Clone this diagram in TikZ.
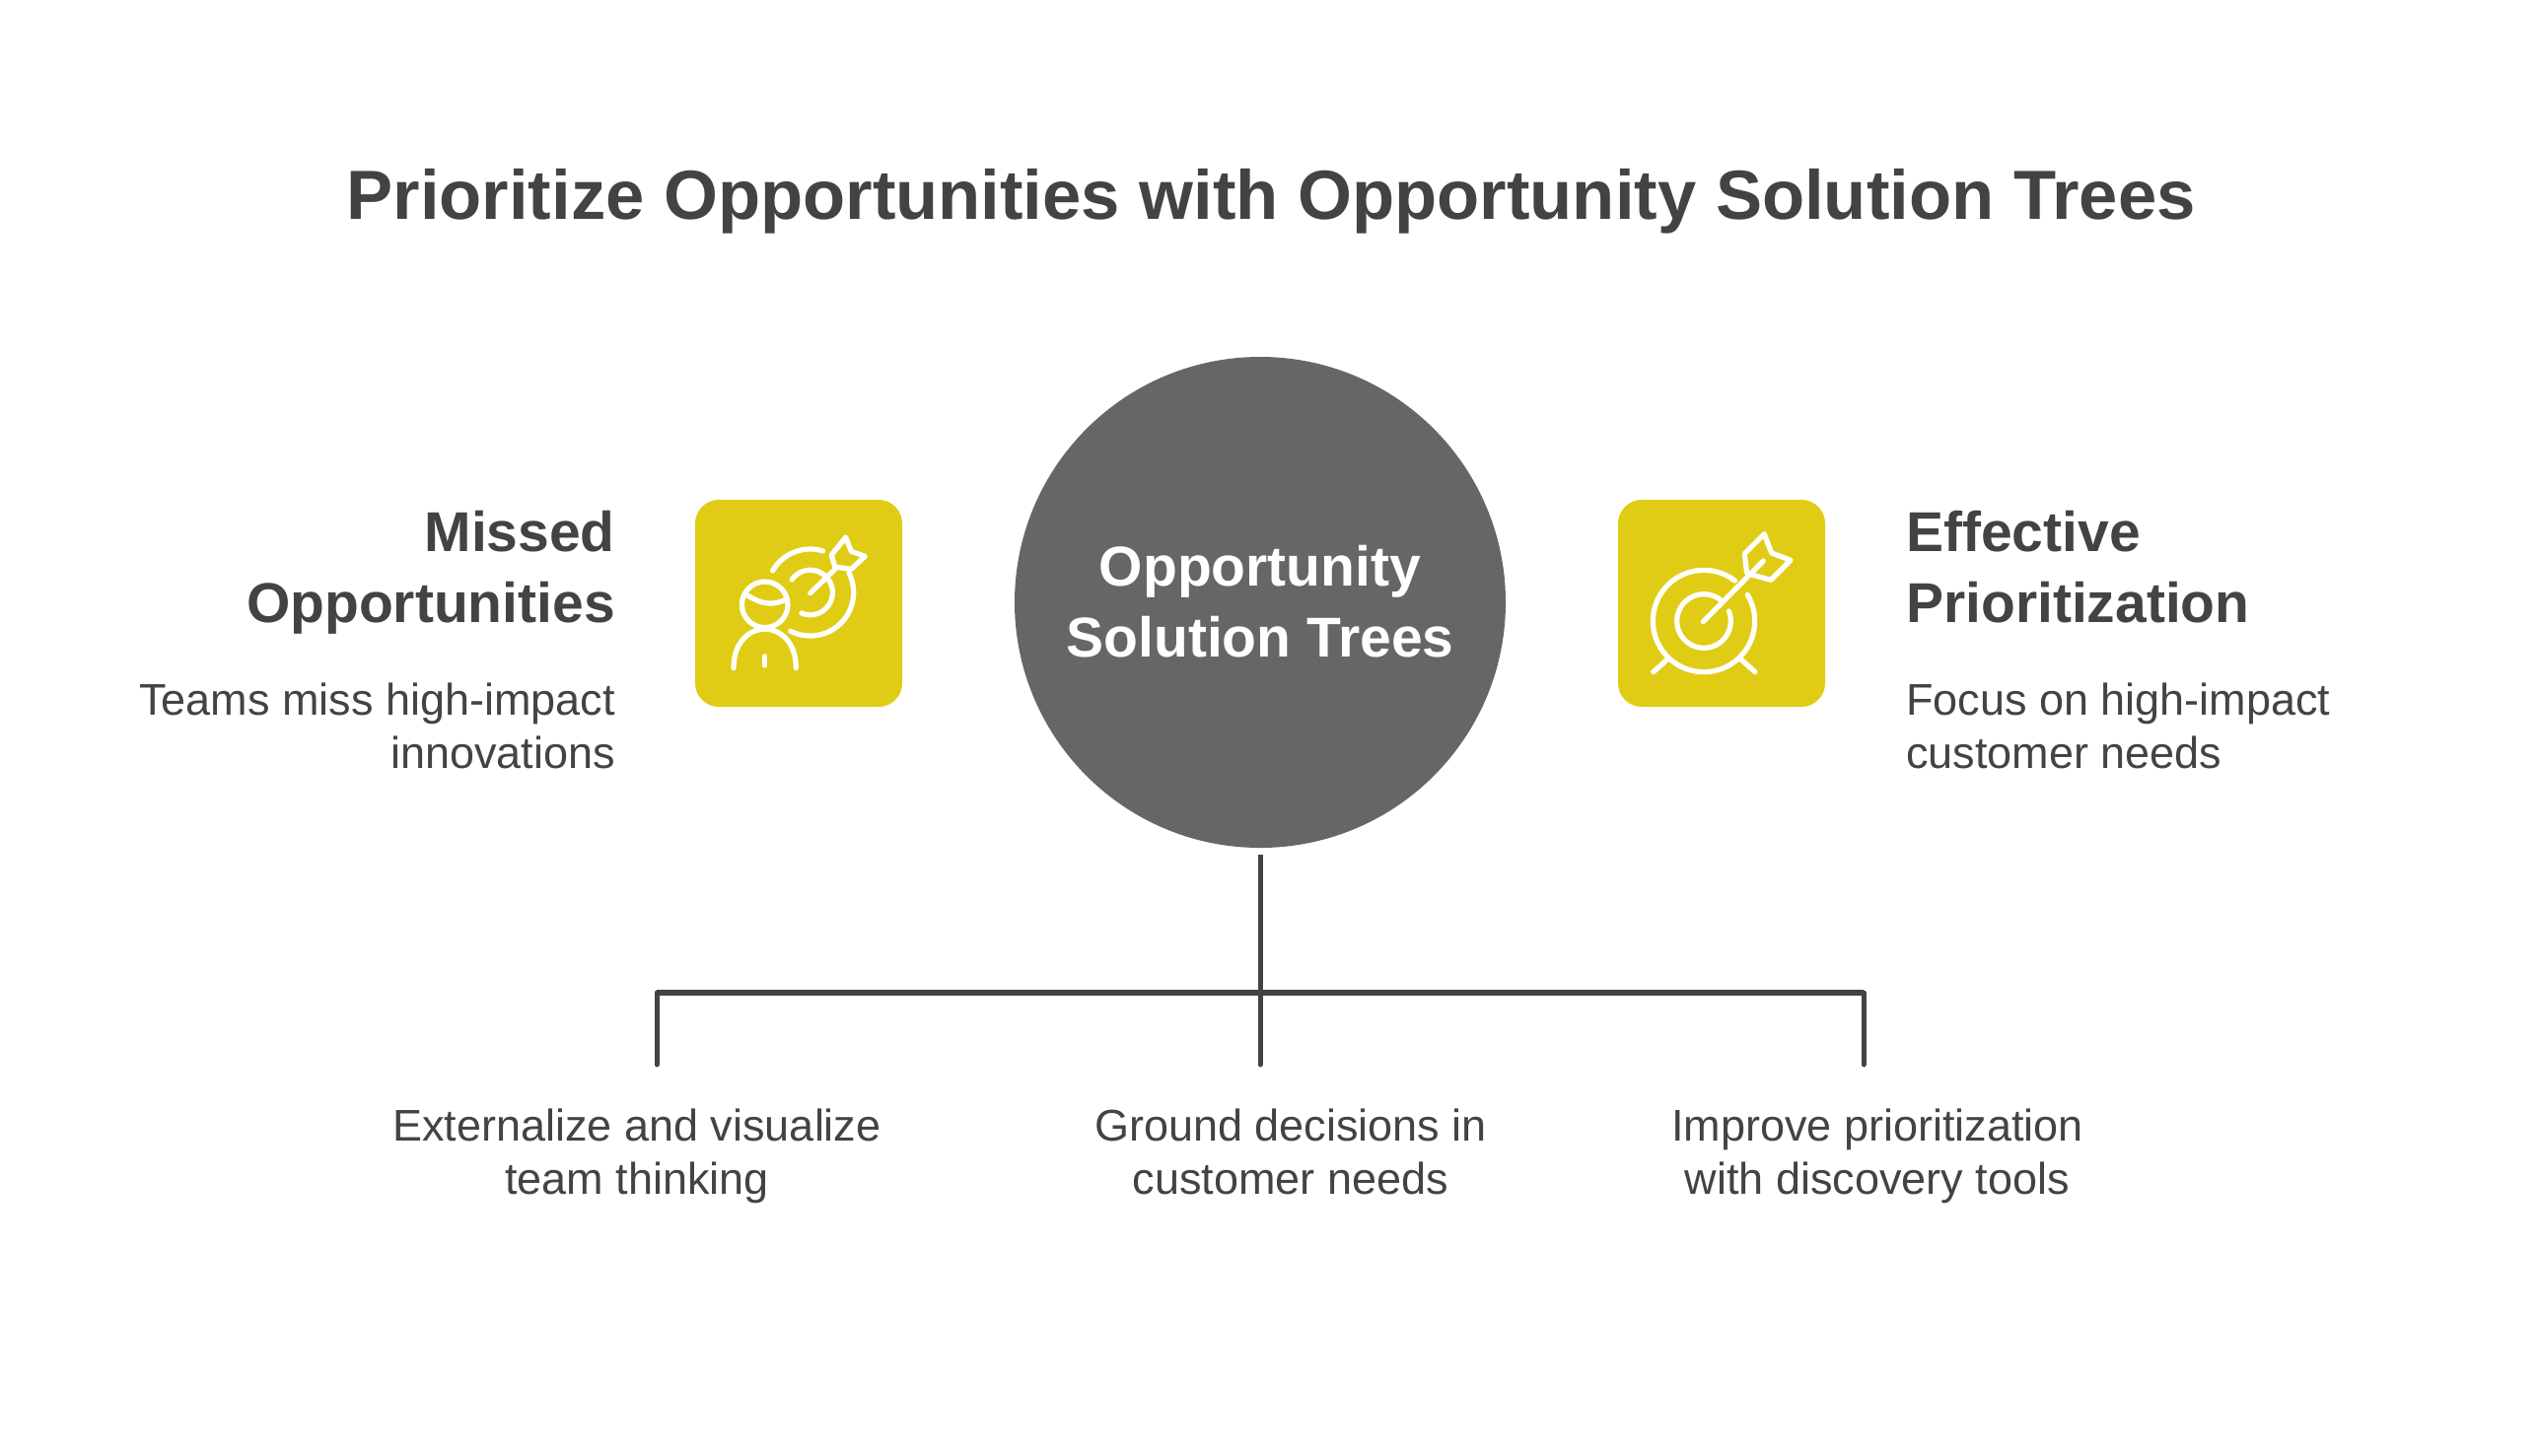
\documentclass[tikz,border=0pt]{standalone}
\usepackage{fontspec}
\usepackage{tikz}
\setmainfont{Liberation Sans}
\definecolor{encre}{HTML}{434343}
\definecolor{gris}{HTML}{666666}
\definecolor{jaune}{HTML}{E0CC14}
\tikzset{fig/.style={
    line width=5pt,
    draw=encre}}
\tikzset{tile/.style={
    rectangle,
    fill=jaune,
    rounded corners=24pt,
    minimum size=210pt,
    inner sep=0pt}}
\tikzset{iconline/.style={
    white,
    line width=5.2pt,
    line cap=round,
    line join=round}}
\tikzset{heading/.style={
    inner sep=0pt,
    text=encre,
    font=\fontsize{57}{72}\selectfont\bfseries}}
\tikzset{blurb/.style={
    inner sep=0pt,
    text=encre,
    font=\fontsize{45}{54}\selectfont}}
% arc of a ring: centre x, centre y, radius, from angle, to angle
\newcommand{\ringarc}[5]{\draw[iconline] plot[domain=#4:#5,samples=50] ({#1+#3*cos(\x)},{#2+#3*sin(\x)});}

\begin{document}
\begin{tikzpicture}[x=1pt,y=-1pt]

\useasboundingbox (0,0) rectangle (2574,1476);

\coordinate (H) at (1278,611);
\coordinate (J) at (1278,1007);
\coordinate (S1) at (666,1007);
\coordinate (S3) at (1890,1007);
\coordinate (E1) at (666,1080);
\coordinate (E2) at (1278,1080);
\coordinate (E3) at (1890,1080);

\node[inner sep=0pt,
  text=encre,
  anchor=base,
  font=\fontsize{70.6}{72}\selectfont\bfseries] (title) at (1289,222)
  {Prioritize Opportunities with Opportunity Solution Trees};

\node[circle,
  fill=gris,
  minimum size=498pt,
  inner sep=0pt] (hub) at (H) {};
\node[heading,
  text=white,
  align=center] (hubtext) at (1278,610) {Opportunity\\Solution Trees};

\node[tile] (t1) at (810,612) {};
\node[tile] (t2) at (1746,612) {};

\node[heading,
  anchor=north east,
  align=right] (h1) at (624,518) {Missed\\Opportunities};
\node[blurb,
  anchor=north east,
  align=right] (d1) at (624,693) {Teams miss high-impact\\innovations};

\node[heading,
  anchor=north west,
  align=left] (h2) at (1933,518) {Effective\\Prioritization};
\node[blurb,
  anchor=north west,
  align=left] (d2) at (1933,693) {Focus on high-impact\\customer needs};

\node[blurb,
  anchor=north,
  align=center] (b1) at (646,1125) {Externalize and visualize\\team thinking};
\node[blurb,
  anchor=north,
  align=center] (b2) at (1309,1125) {Ground decisions in\\customer needs};
\node[blurb,
  anchor=north,
  align=center] (b3) at (1904,1125) {Improve prioritization\\with discovery tools};

\draw[fig,shorten <=7pt] (hub.south) -- (J);
\draw[fig,line width=6pt] (S1) -- (S3);
\draw[fig,line cap=round] (S1) -- (E1);
\draw[fig,line cap=round] (J) -- (E2);
\draw[fig,line cap=round] (S3) -- (E3);

% person and target
\draw[iconline] (775.7,613.3) circle (23.3pt);
\draw[iconline] (758.3,604) .. controls (772,613) and (785,615) .. (798.3,607.3);
\draw[iconline] (744,677.7) .. controls (744,625) and (807.3,625) .. (807.3,677.7);
\draw[iconline] (775.7,665.7) -- (775.7,675);
\ringarc{821.7}{601}{44}{-150}{-73}
\ringarc{821.7}{601}{44}{-27}{117}
\ringarc{821.7}{601}{22.7}{-145}{113}
\draw[iconline] (821.7,601.7) -- (848.3,576);
\draw[iconline] (857.7,545) -- (843.3,563) -- (846.7,575) -- (863.3,577.3) -- (877.3,564.3) -- (863.3,559.3) -- cycle;

% plain target
\ringarc{1728}{630}{51.7}{-52.5}{-391}
\ringarc{1728}{630}{27.3}{-52}{-381.5}
\draw[iconline] (1727.3,630.7) -- (1788.3,569);
\draw[iconline] (1789.3,541.7) -- (1769.3,561.7) -- (1771.7,581.7) -- (1796,588.3) -- (1816,568.3) -- (1796.7,561) -- cycle;
\draw[iconline] (1691.7,668.3) -- (1676.7,681.7);
\draw[iconline] (1765,668.3) -- (1780,681.7);

\end{tikzpicture}
\end{document}
